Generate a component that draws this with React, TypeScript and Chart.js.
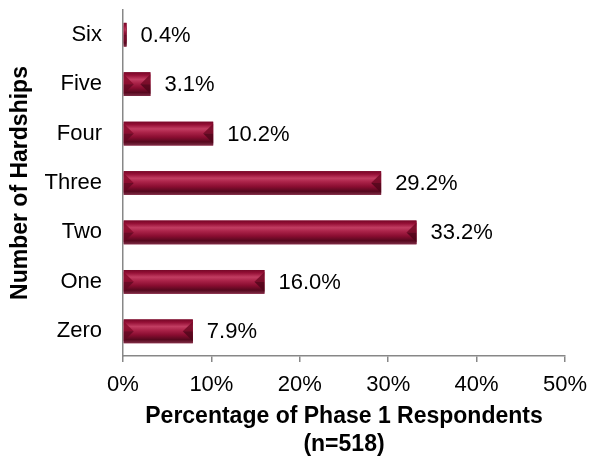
import React, { useEffect, useRef } from "react";
import { Chart, registerables } from "chart.js";

Chart.register(...registerables);

const categories = ["Six", "Five", "Four", "Three", "Two", "One", "Zero"];
const percentages = [0.4, 3.1, 10.2, 29.2, 33.2, 16.0, 7.9];
const valueLabels = ["0.4%", "3.1%", "10.2%", "29.2%", "33.2%", "16.0%", "7.9%"];
const xTickValues = [0, 10, 20, 30, 40, 50];
const xTitle = ["Percentage of Phase 1 Respondents", "(n=518)"];
const yTitle = "Number of Hardships";

const FONT = "'Liberation Sans', Arial, Helvetica, sans-serif";
const AXIS_COLOR = "#878787";

const bevelPlugin = {
  id: "bevelBars",
  afterDatasetsDraw(chart: any) {
    const ctx = chart.ctx;
    const meta = chart.getDatasetMeta(0);
    meta.data.forEach((el: any) => {
      const { x, y, base, height } = el.getProps(["x", "y", "base", "height"], true);
      const left = Math.min(base, x);
      const right = Math.max(base, x);
      const w = right - left;
      const top = y - height / 2;
      const bottom = y + height / 2;
      if (w <= 0) return;
      ctx.save();
      const g = ctx.createLinearGradient(0, top, 0, bottom);
      g.addColorStop(0, "#760828");
      g.addColorStop(0.12, "#940f35");
      g.addColorStop(0.3, "#c23d62");
      g.addColorStop(0.45, "#ab2349");
      g.addColorStop(0.65, "#8a0d31");
      g.addColorStop(0.85, "#56081e");
      g.addColorStop(1, "#7e2c45");
      ctx.fillStyle = g;
      ctx.fillRect(left, top, w, height);
      const bw = Math.min(10, w / 2);
      // left bevel
      ctx.fillStyle = "rgba(135,10,44,0.85)";
      ctx.beginPath();
      ctx.moveTo(left, top + 2);
      ctx.lineTo(left + bw, y);
      ctx.lineTo(left, y);
      ctx.closePath();
      ctx.fill();
      ctx.fillStyle = "rgba(100,8,34,0.85)";
      ctx.beginPath();
      ctx.moveTo(left, y);
      ctx.lineTo(left + bw, y);
      ctx.lineTo(left, bottom - 2);
      ctx.closePath();
      ctx.fill();
      // right bevel
      ctx.fillStyle = "rgba(115,9,38,0.85)";
      ctx.beginPath();
      ctx.moveTo(right, top + 2);
      ctx.lineTo(right - bw, y);
      ctx.lineTo(right, y);
      ctx.closePath();
      ctx.fill();
      ctx.fillStyle = "rgba(80,6,26,0.85)";
      ctx.beginPath();
      ctx.moveTo(right, y);
      ctx.lineTo(right - bw, y);
      ctx.lineTo(right, bottom - 2);
      ctx.closePath();
      ctx.fill();
      ctx.restore();
    });
  },
  afterDraw(chart: any) {
    const ctx = chart.ctx;
    const meta = chart.getDatasetMeta(0);
    ctx.save();
    ctx.font = `22px ${FONT}`;
    ctx.fillStyle = "#000000";
    ctx.textAlign = "left";
    ctx.textBaseline = "middle";
    meta.data.forEach((el: any, i: number) => {
      const { x, y } = el.getProps(["x", "y"], true);
      ctx.fillText(valueLabels[i], x + 14, y + 1);
    });
    ctx.restore();
  },
};

export default function App() {
  const canvasRef = useRef<HTMLCanvasElement | null>(null);

  useEffect(() => {
    if (!canvasRef.current) return;
    const chart = new Chart(canvasRef.current, {
      type: "bar",
      data: {
        labels: categories,
        datasets: [
          {
            data: percentages,
            backgroundColor: "#8e0f34",
            borderWidth: 0,
            barPercentage: 0.8,
            categoryPercentage: 0.6,
          },
        ],
      },
      options: {
        indexAxis: "y",
        responsive: true,
        maintainAspectRatio: false,
        animation: false,
        layout: { padding: { top: 10, right: 26, left: 0, bottom: 0 } },
        plugins: {
          legend: { display: false },
          tooltip: { enabled: false },
        },
        scales: {
          x: {
            type: "linear",
            min: 0,
            max: 50,
            afterBuildTicks: (scale: any) => {
              scale.ticks = xTickValues.map((v) => ({ value: v }));
            },
            afterFit: (scale: any) => {
              scale.height = 102;
              scale.paddingLeft = 0;
              scale.paddingRight = 0;
            },
            ticks: {
              callback: (v: any) => `${v}%`,
              font: { family: FONT, size: 22 },
              color: "#000000",
              padding: 10,
              maxRotation: 0,
            },
            grid: {
              display: true,
              drawOnChartArea: false,
              drawTicks: true,
              tickLength: 6,
              color: AXIS_COLOR,
              lineWidth: 1.5,
            },
            border: { display: true, color: AXIS_COLOR, width: 1.5 },
            title: {
              display: true,
              text: xTitle,
              font: { family: FONT, size: 23, weight: "bold", lineHeight: 1.2 },
              color: "#000000",
              padding: { top: 0, bottom: 0 },
            },
          },
          y: {
            type: "category",
            afterFit: (scale: any) => {
              scale.width = 123;
              scale.paddingTop = 0;
              scale.paddingBottom = 0;
            },
            ticks: {
              font: { family: FONT, size: 22 },
              color: "#000000",
              padding: 21,
            },
            grid: { display: false, drawTicks: false },
            border: { display: true, color: AXIS_COLOR, width: 1.5 },
            title: {
              display: true,
              text: yTitle,
              font: { family: FONT, size: 23, weight: "bold", lineHeight: 1.2 },
              color: "#000000",
              padding: { top: 7, bottom: 0 },
            },
          },
        },
      },
      plugins: [bevelPlugin],
    } as any);
    return () => chart.destroy();
  }, []);

  return (
    <div
      style={{
        position: "fixed",
        left: 0,
        top: 0,
        width: 591,
        height: 458,
        background: "#ffffff",
      }}
    >
      <canvas ref={canvasRef} />
    </div>
  );
}
